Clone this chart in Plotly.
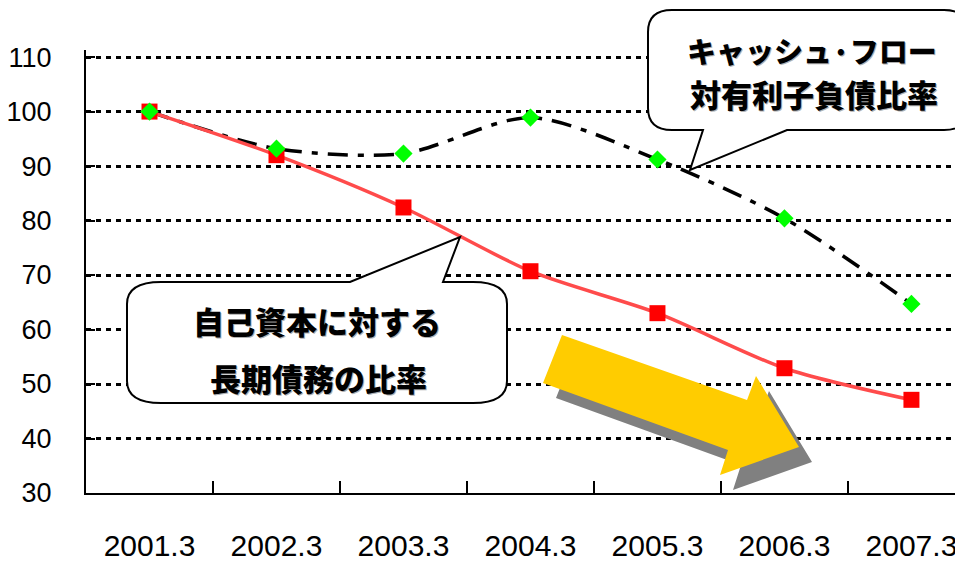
import plotly.graph_objects as go

# data
years = ["2001.3", "2002.3", "2003.3", "2004.3", "2005.3", "2006.3", "2007.3"]
debt_ratio = [100, 92.0, 82.4, 70.7, 63.0, 52.9, 47.1]       # 自己資本に対する長期債務の比率
cashflow_ratio = [100, 93.2, 92.3, 98.9, 91.2, 80.4, 64.7]   # キャッシュ・フロー対有利子負債比率

# the page body has an 8px margin, so the figure is drawn 8px right/down
OFF = 8
W, H = 963 - OFF, 561 - OFF
# plot area in screen pixels: x 86..963, y 50..493
ML, MR, MT, MB = 86 - OFF, 0, 50 - OFF, 561 - 493
PW, PH = W - ML - MR, H - MT - MB

TICKFONT = "Liberation Sans, Arial, sans-serif"
JP = "Noto Sans CJK JP, sans-serif"


def px(x):
    return (x - OFF - ML) / PW


def py(y):
    return (H - MB - (y - OFF)) / PH


def pt(x, y):
    return f"{px(x):.5f},{py(y):.5f}"


def callout(left, top, right, bottom, rx, ry, tail, tail_on_top):
    """Rounded box with a pointed tail, built in screen pixels -> paper coords"""
    a, b, tip = tail
    d = "M " + pt(left + rx, top)
    if tail_on_top:
        d += " L " + pt(a, top) + " L " + pt(*tip) + " L " + pt(b, top)
    d += " L " + pt(right - rx, top)
    d += " Q " + pt(right, top) + " " + pt(right, top + ry)
    d += " L " + pt(right, bottom - ry)
    d += " Q " + pt(right, bottom) + " " + pt(right - rx, bottom)
    if not tail_on_top:
        d += " L " + pt(b, bottom) + " L " + pt(*tip) + " L " + pt(a, bottom)
    d += " L " + pt(left + rx, bottom)
    d += " Q " + pt(left, bottom) + " " + pt(left, bottom - ry)
    d += " L " + pt(left, top + ry)
    d += " Q " + pt(left, top) + " " + pt(left + rx, top) + " Z"
    return d


def polygon(points, dx=0, dy=0):
    return "M " + " L ".join(pt(x + dx, y + dy) for x, y in points) + " Z"


fig = go.Figure()

# black dash-dot line first, red series over it, green diamonds on top
fig.add_trace(go.Scatter(
    x=years, y=cashflow_ratio,
    mode='lines',
    line=dict(color='black', width=3.5, shape='spline', smoothing=0.8,
              dash="20px,10px,6px,10px"),
    hoverinfo='skip'
))

fig.add_trace(go.Scatter(
    x=years, y=debt_ratio,
    mode='lines+markers',
    line=dict(color='#FF4B4B', width=3.5, shape='spline', smoothing=0.8),
    marker=dict(symbol='square', size=16, color='#FF0000'),
    name="自己資本に対する長期債務の比率"
))

fig.add_trace(go.Scatter(
    x=years, y=cashflow_ratio,
    mode='markers',
    marker=dict(symbol='diamond', size=14, color='#00FF00'),
    name="キャッシュ・フロー対有利子負債比率"
))

# big trend arrow with grey shadow
arrow = [(562, 335), (747, 400), (756, 376), (799, 447), (720, 475), (728, 450), (543, 383)]
shapes = [
    dict(type='path', xref='paper', yref='paper', path=polygon(arrow, 13, 15),
         fillcolor='#808080', line=dict(width=0), layer='above'),
    dict(type='path', xref='paper', yref='paper', path=polygon(arrow),
         fillcolor='#FFCC00', line=dict(width=0), layer='above'),
    dict(type='path', xref='paper', yref='paper',
         path=callout(648, 10, 968, 130, 24, 22, (703, 787, (690, 170)), False),
         fillcolor='white', line=dict(color='black', width=2), layer='above'),
    dict(type='path', xref='paper', yref='paper',
         path=callout(127, 282, 507, 403, 34, 22, (350, 443, (460, 237)), True),
         fillcolor='white', line=dict(color='black', width=2), layer='above'),
]

labels = [
    ("キャッシュ·フロー", 812, 50, 29),
    ("対有利子負債比率", 814, 93, 31),
    ("自己資本に対する", 317, 320, 31),
    ("長期債務の比率", 318, 377, 31),
]
annotations = []
for text, x, y, size in labels:
    annotations.append(dict(
        text=text, x=px(x), y=py(y), xref='paper', yref='paper',
        xanchor='center', yanchor='middle', showarrow=False,
        font=dict(family=JP, size=size, color='black', weight=900,
                  shadow="1px 1px 0px #b0b0b0")
    ))

fig.update_layout(
    width=W, height=H,
    margin=dict(l=ML, r=MR, t=MT, b=MB, autoexpand=False),
    plot_bgcolor='white',
    paper_bgcolor='white',
    showlegend=False,
    shapes=shapes,
    annotations=annotations,
    xaxis=dict(
        type='category',
        range=[-0.5, 6.406],
        automargin=False,
        showline=True, linecolor='black', linewidth=2,
        ticks='inside', tickson='boundaries', ticklen=12, tickwidth=1.5, tickcolor='black',
        showgrid=False,
        tickfont=dict(family=TICKFONT, size=30, color='black'),
        ticklabelstandoff=25
    ),
    yaxis=dict(
        range=[30, 111.3],
        tick0=30, dtick=10,
        automargin=False,
        showline=True, linecolor='black', linewidth=2,
        ticks='inside', ticklen=9, tickwidth=2, tickcolor='black',
        showgrid=True, gridcolor='black', gridwidth=3, griddash="5px,5px",
        zeroline=False,
        tickfont=dict(family=TICKFONT, size=27, color='black'),
        ticklabelstandoff=27
    )
)

fig.write_html("out.html")
